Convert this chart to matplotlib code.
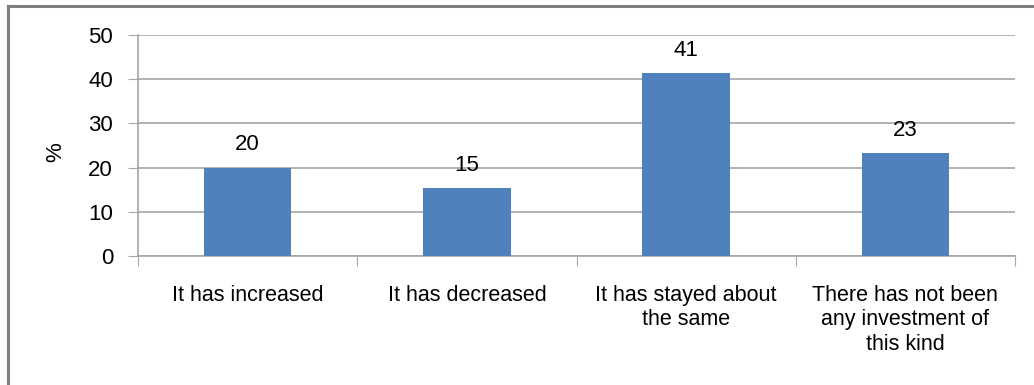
import numpy as np
import matplotlib.pyplot as plt
from matplotlib.lines import Line2D

categories = ['It has increased', 'It has decreased', 'It has stayed about\nthe same',
              'There has not been\nany investment of\nthis kind']
values = [20.0, 15.3, 41.4, 23.3]
yticks = [0, 10, 20, 30, 40, 50]

bar_color = '#4F81BD'
grid_color = '#A6A6A6'
font = 'Liberation Sans'

fig = plt.figure(figsize=(10.34, 3.85), dpi=100)
ax = fig.add_axes([138 / 1034, 1 - 256 / 385, (1015 - 138) / 1034, (256 - 35) / 385])

x = np.arange(len(categories))
ax.bar(x, values, width=0.4, color=bar_color, zorder=3)

# value labels above bars
for xi, v in zip(x, values):
    ax.annotate(f'{v:.0f}', (xi, v), xytext=(0, 9), textcoords='offset points',
                ha='center', va='bottom', fontsize=16, family=font)

ax.set_xlim(-0.5, len(categories) - 0.5)
ax.set_ylim(0, 50)
ax.set_yticks(yticks)
ax.set_yticklabels([str(t) for t in yticks], fontsize=16, family=font)
ax.yaxis.grid(True, color=grid_color, linewidth=1.2, zorder=0)

# ticks at category boundaries, labels at the centres
ax.set_xticks(np.arange(len(categories) + 1) - 0.5)
ax.set_xticklabels([])
ax.set_xticks(x, minor=True)
ax.set_xticklabels(categories, minor=True, fontsize=15.5, family=font, linespacing=1.2)
ax.tick_params(axis='x', which='major', length=7, color=grid_color, direction='out')
ax.tick_params(axis='x', which='minor', length=0, pad=21)
ax.tick_params(axis='y', length=7, color=grid_color, pad=11)

for side in ['top', 'right']:
    ax.spines[side].set_visible(False)
for side in ['left', 'bottom']:
    ax.spines[side].set_color(grid_color)
    ax.spines[side].set_linewidth(1.2)

ax.set_ylabel('%', fontsize=16, family=font)
ax.yaxis.set_label_coords((66 - 138) / (1015 - 138), 0.47)

# outer frame (left and top edges visible)
fig.add_artist(Line2D([8 / 1034, 8 / 1034], [0, 1 - 6 / 385], transform=fig.transFigure,
                      color='#7F7F7F', linewidth=2.2))
fig.add_artist(Line2D([8 / 1034, 1], [1 - 6 / 385, 1 - 6 / 385], transform=fig.transFigure,
                      color='#7F7F7F', linewidth=2.2))

fig.savefig('out.png', dpi=100)
